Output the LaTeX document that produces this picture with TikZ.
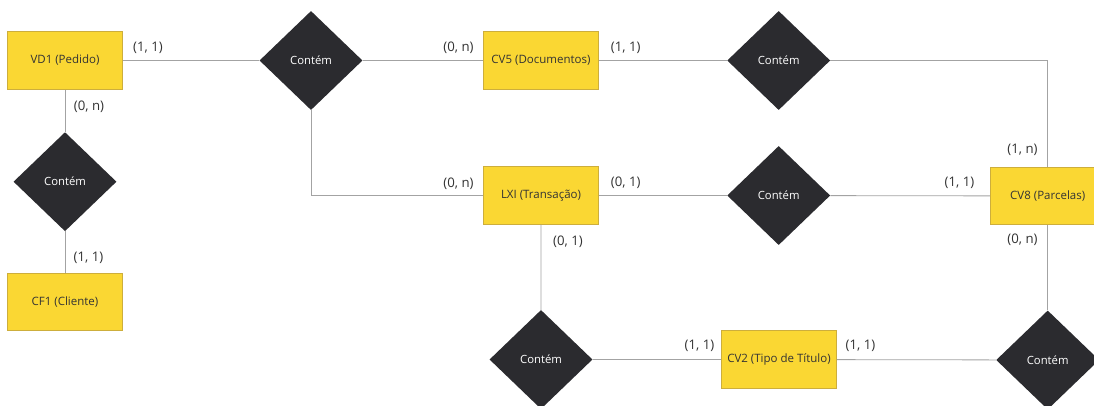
\documentclass[tikz,border=0pt]{standalone}
\usepackage{fontspec}
\setmainfont{Open Sans}
\usetikzlibrary{shapes.geometric}

\definecolor{entfill}{HTML}{FAD733}
\definecolor{entline}{HTML}{CDAE3C}
\definecolor{relfill}{HTML}{2B2B2F}
\definecolor{wire}{HTML}{A3A3A3}
\definecolor{ink}{HTML}{333333}

\tikzset{
  entity/.style={rectangle, fill=entfill, draw=entline, line width=0.6pt,
    minimum width=115, minimum height=57.5, inner sep=0pt, text=ink,
    font=\fontsize{11.5}{13}\selectfont},
  relation/.style={diamond, fill=relfill, minimum width=103, minimum height=99,
    inner sep=0pt, text=white, font=\fontsize{11.3}{13}\selectfont},
  card/.style={text=ink, inner sep=1pt, font=\fontsize{13.2}{15}\selectfont},
  wire/.style={draw=wire, line width=0.8pt}
}

\begin{document}
\begin{tikzpicture}[x=1pt, y=-1pt]
  \path[use as bounding box, clip] (0,0) rectangle (1094,405);
  \fill[white] (0,0) rectangle (1094,405);

  % entities
  \node[entity] (vd1) at (65,60.5) {VD1 (Pedido)};
  \node[entity] (cf1) at (65,302) {CF1 (Cliente)};
  \node[entity] (cv5) at (541,60.5) {CV5 (Documentos)};
  \node[entity] (lxi) at (541,195.5) {LXI (Transação)};
  \node[entity] (cv8) at (1047.7,196) {CV8 (Parcelas)};
  \node[entity] (cv2) at (779,359.5) {CV2 (Tipo de Título)};

  % relationships
  \node[relation] (pedDoc) at (311,60.5) {Contém};
  \node[relation] (pedCli) at (65,181.7) {Contém};
  \node[relation] (docPar) at (778.7,60.5) {Contém};
  \node[relation] (traPar) at (778.7,195.5) {Contém};
  \node[relation] (traTit) at (541,359.5) {Contém};
  \node[relation] (parTit) at (1047.7,360) {Contém};

  % connectors
  \draw[wire] (vd1) -- (pedDoc) -- (cv5) -- (docPar);
  \draw[wire] (vd1) -- (pedCli) -- (cf1);
  \draw[wire] (pedDoc.south) |- (lxi.west);
  \draw[wire] (docPar.east) -| (cv8.north);
  \draw[wire] (lxi) -- (traPar) -- (cv8);
  \draw[wire] (lxi) -- (traTit) -- (cv2) -- (parTit);
  \draw[wire] (cv8) -- (parTit);

  % cardinalities
  \node[card] (c1) at (148,47.7) {(1, 1)};
  \node[card] (c2) at (89,106.7) {(0, n)};
  \node[card] (c3) at (88.5,258.3) {(1, 1)};
  \node[card] (c4) at (458.5,47.7) {(0, n)};
  \node[card] (c5) at (625.7,47.7) {(1, 1)};
  \node[card] (c6) at (458.5,183.3) {(0, n)};
  \node[card] (c7) at (625.7,183) {(0, 1)};
  \node[card] (c8) at (568,241.7) {(0, 1)};
  \node[card] (c9) at (1022.5,150) {(1, n)};
  \node[card] (c10) at (959.5,182.7) {(1, 1)};
  \node[card] (c11) at (1022.5,239.3) {(0, n)};
  \node[card] (c12) at (699.5,346) {(1, 1)};
  \node[card] (c13) at (860.5,346) {(1, 1)};
\end{tikzpicture}
\end{document}
